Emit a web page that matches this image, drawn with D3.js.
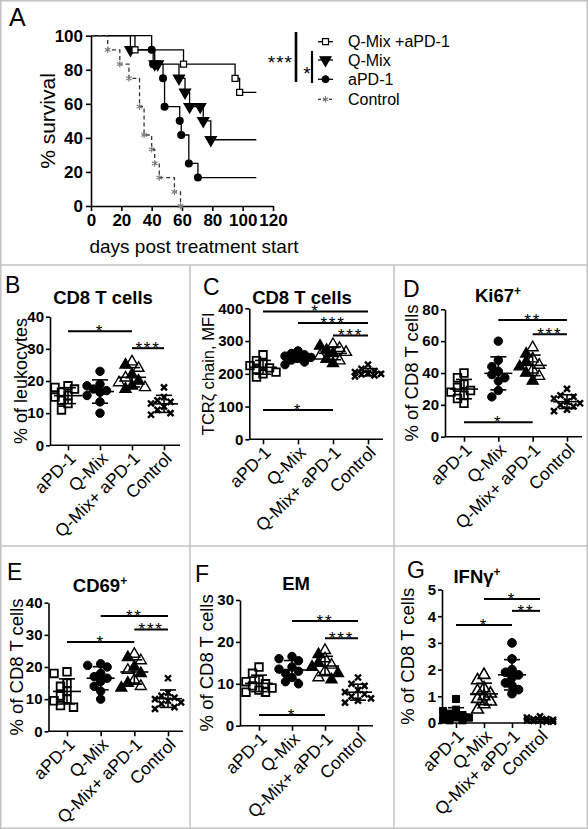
<!DOCTYPE html>
<html><head><meta charset="utf-8">
<script src="https://cdn.jsdelivr.net/npm/d3@7"></script>
<style>
body{margin:0;background:#fff;}
svg{display:block;font-family:"Liberation Sans",Arial,sans-serif;}
</style></head><body>
<svg id="c" width="588" height="829"></svg>
<script>
// ---------------- DATA ----------------
const groups = ["aPD-1","Q-Mix","Q-Mix+ aPD-1","Control"];

// Panel A: Kaplan-Meier steps (day, % survival)
const survDaysCombo = [0,29,61,95,98,109];
const survPctCombo  = [100,91.7,83.3,75,66.7,66.7];
const survDaysQMix  = [0,26,42,44,58,62,65,72,74,79,109];
const survPctQMix   = [100,91.7,83.3,83.3,75,66.7,58.3,58.3,50,38.9,38.9];
const survDaysAPD1  = [0,40,41,47.5,48.5,58.5,59.5,64.5,70.5,109];
const survPctAPD1   = [100,91.7,83.3,75,58.3,50,41.7,25,16.7,16.7];
const survDaysCtrl  = [0,11,19,25,32,35,40,42,45,55,59];
const survPctCtrl   = [100,91.7,83.3,75,58.3,41.7,33.3,25,16.7,8.3,0];
const followUpEnd = 109;
const survTicksX = [0,20,40,60,80,100,120];
const survTicksY = [0,20,40,60,80,100];
const legendLabels = ["Q-Mix +aPD-1","Q-Mix","aPD-1","Control"];

// Panel B: CD8 T cells, % of leukocytes
const B_aPD1 = [18.5,18,17.5,16.5,15.5,15,14,13,11];
const B_QMix = [23,19,18.5,17.5,17,16.5,15.5,13.5,10];
const B_Combo = [26,25,24,22,21,20,19.5,18.5,18,17.5];
const B_Ctrl = [18,15,14,13.5,13,12,11,10,9.5];
const B_ticks = [0,10,20,30,40];
const B_sig = [[0,2,35.5,"*"],[2,3,30.2,"***"]];

// Panel C: TCRzeta chain MFI
const C_aPD1 = [258,240,230,225,218,212,205,200,190];
const C_QMix = [270,262,258,254,250,247,242,236,228];
const C_Combo = [290,285,278,272,266,262,255,245,240,232];
const C_Ctrl = [228,215,208,205,202,200,198,195,192];
const C_ticks = [0,100,200,300,400];
const C_sig = [[0,3,390,"*"],[1,3,355,"***"],[2,3,317,"***"],[0,2,89.6,"*"]];

// Panel D: Ki67+
const D_aPD1 = [40,37,33,31,29,28,26,24,21];
const D_QMix = [60,48,44,41,39,37,35,29,25];
const D_Combo = [56,52,49,47,45,44,42,40,38,35];
const D_Ctrl = [30,26,25,24,22,21,20,19,17,16];
const D_ticks = [0,20,40,60,80];
const D_sig = [[1,3,73.3,"**"],[2,3,64.3,"***"],[0,2,9,"*"]];

// Panel E: CD69+
const E_aPD1 = [18.5,18,15,14,12.5,11,10,9.5,8,7.5];
const E_QMix = [21,20.5,20,18,17,16.5,15.5,14,12.5,10];
const E_Combo = [24,23,22,20,19,18,16,15,14,13.5];
const E_Ctrl = [16.5,12,11,10.5,10,9.5,9,8.5,7.5,7];
const E_ticks = [0,10,20,30,40];
const E_sig = [[1,3,35.9,"**"],[2,3,31.7,"***"],[0,2,27.8,"*"]];

// Panel F: EM
const F_aPD1 = [14,12.5,11,10.5,10,9.5,9,8.5,8,8];
const F_QMix = [16.5,16,15.5,14,13.5,13,12.5,11.5,10.5,10];
const F_Combo = [18,17,16,15,14.5,14,13,12.5,11.5,11];
const F_Ctrl = [11.5,10,9.5,8.5,8,7.5,7,6.5,6,5.5];
const F_ticks = [0,10,20,30];
const F_sig = [[1,3,25,"**"],[2,3,20.9,"***"],[0,2,2.55,"*"]];

// Panel G: IFNgamma+
const G_aPD1 = [0.9,0.5,0.45,0.35,0.3,0.25,0.2,0.15,0.1,0.1];
const G_QMix = [1.8,1.6,1.3,1.2,1.1,1.0,0.9,0.8,0.7,0.5];
const G_Combo = [3.0,2.4,2.0,1.9,1.8,1.7,1.5,1.4,1.25,1.1];
const G_Ctrl = [0.25,0.2,0.15,0.15,0.12,0.1,0.1,0.08,0.05,0.05];
const G_ticks = [0,1,2,3,4,5];
const G_sig = [[1,3,4.64,"*"],[2,3,4.2,"**"],[0,2,3.67,"*"]];

// ---------------- DRAWING ----------------
const W = 588, H = 829;
const svg = d3.select("#c");
svg.append("rect").attr("width",W).attr("height",H).attr("fill","#fff");

// custom stroke symbols
const symTimes = {draw(ctx,size){const r=Math.sqrt(size)/2;ctx.moveTo(-r,-r);ctx.lineTo(r,r);ctx.moveTo(r,-r);ctx.lineTo(-r,r);}};
const symAst = {draw(ctx,size){const r=Math.sqrt(size)/2;for(let k=0;k<3;k++){const a=Math.PI/3*k+Math.PI/2;ctx.moveTo(r*Math.cos(a),r*Math.sin(a));ctx.lineTo(-r*Math.cos(a),-r*Math.sin(a));}}};

const fmt = d3.format("d");
function styleAxis(g, fs){
  g.selectAll("path.domain").attr("stroke","#000").attr("stroke-width",1.6);
  g.selectAll(".tick line").attr("stroke","#000").attr("stroke-width",1.6);
  g.selectAll(".tick text").attr("fill","#000").attr("font-size",fs).attr("font-weight","bold")
    .attr("font-family","'Liberation Sans',Arial,sans-serif");
}
const STAR_FS = 17;
function stars(g, x, yLine, label){
  g.append("text").attr("x",x).attr("y",yLine+STAR_FS*0.6-4.3).attr("text-anchor","middle")
    .attr("font-size",STAR_FS).attr("letter-spacing",1.8).attr("fill","#000").text(label);
}

// frame
const fc = "#c2c2c2";
svg.append("rect").attr("x",0.75).attr("y",0.75).attr("width",W-1.5).attr("height",H-1.5)
  .attr("fill","none").attr("stroke",fc).attr("stroke-width",1.5);
[[0,265,W,265],[0,546,W,546],[190,265,190,H],[394,265,394,H]].forEach(l=>{
  svg.append("line").attr("x1",l[0]).attr("y1",l[1]).attr("x2",l[2]).attr("y2",l[3])
    .attr("stroke",fc).attr("stroke-width",1.5);
});

// ---------- Panel A ----------
(function(){
  const g = svg.append("g");
  const x = d3.scaleLinear().domain([0,120]).range([91,273]);
  const y = d3.scaleLinear().domain([0,100]).range([206,35.7]);
  const xa = g.append("g").attr("transform","translate(0,206)")
    .call(d3.axisBottom(x).tickValues(survTicksX).tickFormat(fmt).tickSize(5).tickSizeOuter(0));
  const ya = g.append("g").attr("transform","translate(91,0)")
    .call(d3.axisLeft(y).tickValues(survTicksY).tickFormat(fmt).tickSize(5).tickPadding(3).tickSizeOuter(0));
  styleAxis(xa,17); styleAxis(ya,17);
  xa.selectAll(".tick text").attr("y",8);

  const series = [
    {d:survDaysCombo,p:survPctCombo,sym:d3.symbolSquare,size:36,fill:"#fff",stroke:"#000",dash:null,lc:"#000"},
    {d:survDaysQMix,p:survPctQMix,sym:d3.symbolTriangle,size:52,fill:"#000",stroke:"#000",dash:null,lc:"#000",rot:180},
    {d:survDaysAPD1,p:survPctAPD1,sym:d3.symbolCircle,size:36,fill:"#000",stroke:"#000",dash:null,lc:"#000"},
    {d:survDaysCtrl,p:survPctCtrl,sym:symAst,size:42,fill:"none",stroke:"#808080",dash:"4,3",lc:"#333"}
  ];
  const line = d3.line().x(d=>x(d[0])).y(d=>y(d[1])).curve(d3.curveStepAfter);
  series.forEach(s=>{
    const pts = s.d.map((v,i)=>[v,s.p[i]]);
    g.append("path").attr("d",line(pts)).attr("fill","none").attr("stroke",s.lc)
      .attr("stroke-width",1.3).attr("stroke-dasharray",s.dash);
  });
  series.slice().reverse().forEach(s=>{
    const pts = s.d.map((v,i)=>[v,s.p[i]]).filter((q,i)=>i>0 && q[0]!==followUpEnd);
    g.selectAll(null).data(pts).enter().append("path")
      .attr("d",d3.symbol().type(s.sym).size(s.size)())
      .attr("transform",q=>`translate(${x(q[0])},${y(q[1])})`+(s.rot?` rotate(${s.rot})`:""))
      .attr("fill",s.fill).attr("stroke",s.stroke).attr("stroke-width",s.sym===symAst?1.2:1.3);
  });
  // legend
  const ly = [41.7,60,79.3,99.3];
  series.forEach((s,i)=>{
    g.append("line").attr("x1",318).attr("x2",333).attr("y1",ly[i]).attr("y2",ly[i])
      .attr("stroke",s.lc).attr("stroke-width",1.3).attr("stroke-dasharray",s.dash?"3,2.5":null);
    g.append("path").attr("d",d3.symbol().type(s.sym).size(s.size)())
      .attr("transform",`translate(325.5,${ly[i]})`+(s.rot?` rotate(${s.rot})`:""))
      .attr("fill",s.fill).attr("stroke",s.stroke).attr("stroke-width",1.2);
    g.append("text").attr("x",348).attr("y",ly[i]).attr("dy","0.36em").attr("font-size",16)
      .attr("fill","#000").text(legendLabels[i]);
  });
  // significance brackets
  g.append("line").attr("x1",296).attr("x2",296).attr("y1",32).attr("y2",82).attr("stroke","#000").attr("stroke-width",2.6);
  g.append("text").attr("x",293).attr("y",58+19*0.6).attr("text-anchor","end").attr("font-size",19).attr("letter-spacing",1).text("***");
  g.append("line").attr("x1",312).attr("x2",312).attr("y1",51).attr("y2",83).attr("stroke","#000").attr("stroke-width",2.2);
  g.append("text").attr("x",307).attr("y",69+19*0.6).attr("text-anchor","middle").attr("font-size",19).text("*");
  // labels
  g.append("text").attr("x",9).attr("y",26).attr("font-size",25).text("A");
  g.append("text").attr("transform","translate(47,121) rotate(-90)").attr("text-anchor","middle")
    .attr("dy","0.36em").attr("font-size",21).text("% survival");
  g.append("text").attr("x",194).attr("y",253).attr("text-anchor","middle").attr("font-size",19)
    .text("days post treatment start");
})();

// ---------- Scatter panels ----------
// deterministic column arrangement: pick the offset with least crowding within +/-2 steps
function swarm(vals, y, r, step){
  const pts = vals.map(v=>({v, y:y(v)})).sort((a,b)=>a.y-b.y);
  const placed = [];
  const cand = [0,-1,1,-2,2];
  pts.forEach(p=>{
    let best = null, bestD = -1;
    for(const c of cand){
      const px = c*step;
      const dmin = placed.length ? d3.min(placed,q=>Math.hypot(q.dx-px,q.y-p.y)) : Infinity;
      if(dmin>=r){best=px;break;}
      if(dmin>bestD){bestD=dmin;best=px;}
    }
    p.dx = best;
    placed.push(p);
  });
  return pts;
}

const stdSyms = [
  {type:d3.symbolSquare,size:58,fill:"none",stroke:"#000",sw:1.8},
  {type:d3.symbolCircle,size:56,fill:"#000",stroke:"#000",sw:1},
  {type:d3.symbolTriangle,size:52,fill:"alt",stroke:"#000",sw:1.4},
  {type:symTimes,size:36,fill:"none",stroke:"#000",sw:2.4}
];
const gSyms = [
  {type:d3.symbolSquare,size:50,fill:"#000",stroke:"#000",sw:1},
  {type:d3.symbolTriangle,size:60,fill:"none",stroke:"#000",sw:1.6},
  {type:d3.symbolCircle,size:60,fill:"#000",stroke:"#000",sw:1},
  {type:symTimes,size:36,fill:"none",stroke:"#000",sw:2.4}
];

function scatterPanel(c){
  const g = svg.append("g");
  const y = d3.scaleLinear().domain([0,c.max]).range([c.y0,c.y1]);
  const x = d3.scalePoint().domain(groups).range(c.cats);
  const ya = g.append("g").attr("transform",`translate(${c.ax},0)`)
    .call(d3.axisLeft(y).tickValues(c.ticks).tickFormat(fmt).tickSize(4).tickPadding(2).tickSizeOuter(0));
  styleAxis(ya,c.tfs);
  const xa = g.append("g").attr("transform",`translate(0,${c.y0})`)
    .call(d3.axisBottom(x).tickSize(5).tickSizeOuter(0));
  styleAxis(xa,17.5);
  xa.select("path.domain").attr("d",`M${c.ax},0H${c.axEnd}`);
  xa.selectAll(".tick text").attr("font-weight","normal").attr("x",0).attr("y",0).attr("dy","0.35em")
    .attr("text-anchor","end").attr("transform","translate(4,10) rotate(-45)");

  // points
  c.data.forEach((arr,gi)=>{
    const s = c.syms[gi];
    const cx = x(groups[gi]);
    const pts = swarm(arr,y,7,6.5);
    g.selectAll(null).data(pts).enter().append("path")
      .attr("d",d3.symbol().type(s.type).size(s.size)())
      .attr("transform",p=>`translate(${cx+p.dx},${p.y})`)
      .attr("fill",(p,i)=>s.fill==="alt"?(i%2?"#000":"none"):s.fill)
      .attr("stroke",s.stroke).attr("stroke-width",s.sw);
    const m = d3.mean(arr), sd = d3.deviation(arr);
    g.append("line").attr("x1",cx-14).attr("x2",cx+14).attr("y1",y(m)).attr("y2",y(m)).attr("stroke","#000").attr("stroke-width",1.6);
    g.append("line").attr("x1",cx).attr("x2",cx).attr("y1",y(m-sd)).attr("y2",y(m+sd)).attr("stroke","#000").attr("stroke-width",1.6);
    [m-sd,m+sd].forEach(v=>g.append("line").attr("x1",cx-8).attr("x2",cx+8).attr("y1",y(v)).attr("y2",y(v)).attr("stroke","#000").attr("stroke-width",1.6));
  });
  // significance
  c.sig.forEach(s=>{
    const x1 = x(groups[s[0]]), x2 = x(groups[s[1]]), yy = y(s[2]);
    g.append("line").attr("x1",x1).attr("x2",x2).attr("y1",yy).attr("y2",yy).attr("stroke","#000").attr("stroke-width",2);
    stars(g,(x1+x2)/2,yy,s[3]);
  });
  // title
  const t = g.append("text").attr("x",c.tx).attr("y",c.ty).attr("text-anchor","middle")
    .attr("font-size",18.5).attr("font-weight","bold").text(c.title);
  if(c.sup) t.append("tspan").attr("font-size",12).attr("dy",-7).text(c.sup);
  // y label
  g.append("text").attr("transform",`translate(${c.ylx},${(c.y0+c.y1)/2}) rotate(-90)`)
    .attr("text-anchor","middle").attr("dy","0.36em").attr("font-size",c.ylfs).text(c.ylabel);
  // letter
  g.append("text").attr("x",c.lx).attr("y",c.ly).attr("font-size",23).text(c.letter);
}

scatterPanel({ax:50,axEnd:180,y0:445.3,y1:316.7,max:40,ticks:B_ticks,cats:[68,164],
  data:[B_aPD1,B_QMix,B_Combo,B_Ctrl],syms:stdSyms,sig:B_sig,tfs:15,
  title:"CD8 T cells",tx:103,ty:304,ylabel:"% of leukocytes",ylx:21,ylfs:18,letter:"B",lx:5,ly:293});
scatterPanel({ax:249.3,axEnd:383,y0:439.3,y1:308.3,max:400,ticks:C_ticks,cats:[263,368],
  data:[C_aPD1,C_QMix,C_Combo,C_Ctrl],syms:stdSyms,sig:C_sig,tfs:15,
  title:"CD8 T cells",tx:302,ty:304,ylabel:"TCRζ chain, MFI",ylx:208,ylfs:16.5,letter:"C",lx:203,ly:295});
scatterPanel({ax:445,axEnd:582,y0:436.7,y1:309.3,max:80,ticks:D_ticks,cats:[464,567],
  data:[D_aPD1,D_QMix,D_Combo,D_Ctrl],syms:stdSyms,sig:D_sig,tfs:15,
  title:"Ki67",sup:"+",tx:498,ty:302,ylabel:"% of CD8 T cells",ylx:411,ylfs:18.5,letter:"D",lx:403,ly:297});
scatterPanel({ax:48.5,axEnd:183,y0:731.3,y1:602.7,max:40,ticks:E_ticks,cats:[67,168],
  data:[E_aPD1,E_QMix,E_Combo,E_Ctrl],syms:stdSyms,sig:E_sig,tfs:15,
  title:"CD69",sup:"+",tx:100,ty:592,ylabel:"% of CD8 T cells",ylx:16,ylfs:18.5,letter:"E",lx:7,ly:580});
scatterPanel({ax:240,axEnd:373,y0:725.7,y1:600,max:30,ticks:F_ticks,cats:[259,358],
  data:[F_aPD1,F_QMix,F_Combo,F_Ctrl],syms:stdSyms,sig:F_sig,tfs:15,
  title:"EM",tx:296,ty:590,ylabel:"% of CD8 T cells",ylx:206,ylfs:18.5,letter:"F",lx:195,ly:582});
scatterPanel({ax:442,axEnd:555,y0:723,y1:589.5,max:5,ticks:G_ticks,cats:[456,540],
  data:[G_aPD1,G_QMix,G_Combo,G_Ctrl],syms:gSyms,sig:G_sig,tfs:15,
  title:"IFNγ",sup:"+",tx:477,ty:583,ylabel:"% of CD8 T cells",ylx:407,ylfs:18.5,letter:"G",lx:407,ly:578});
</script>
</body></html>
